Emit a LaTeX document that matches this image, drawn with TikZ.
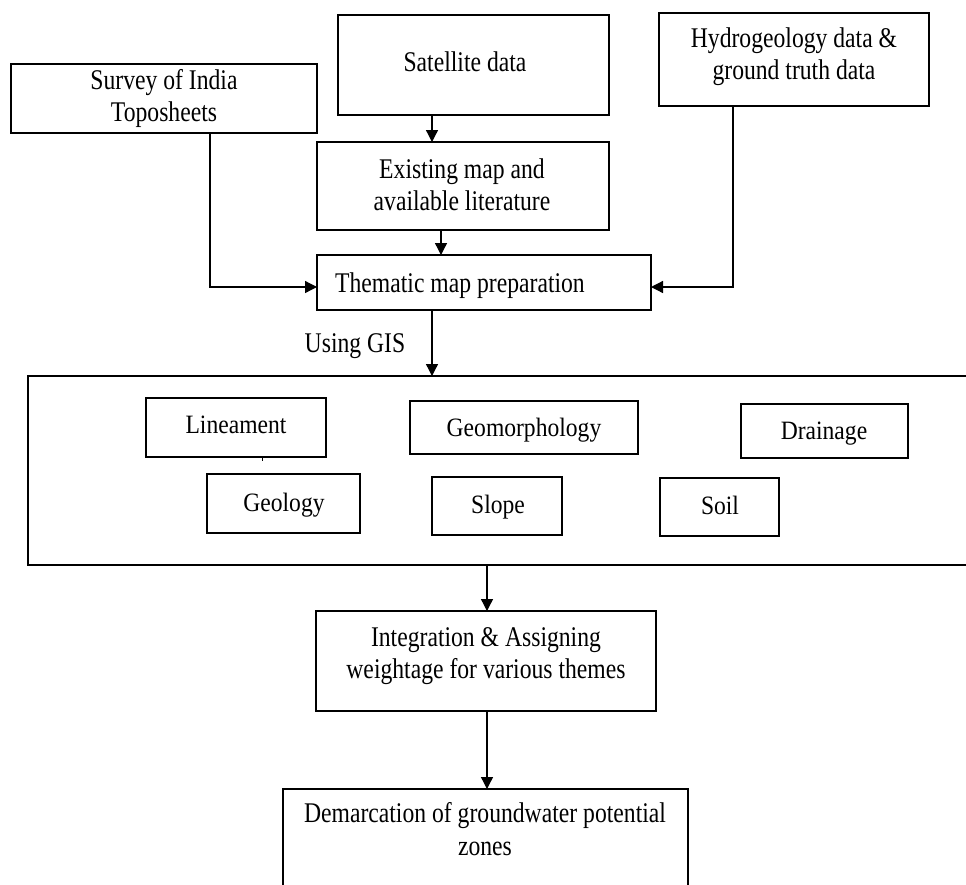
\documentclass[tikz,border=0pt]{standalone}
\usepackage{fontspec}
\newfontfamily\mainf[FakeStretch=0.83]{Liberation Serif}
\newfontfamily\innerf[FakeStretch=0.89]{Liberation Serif}
\usetikzlibrary{arrows.meta}
\begin{document}
\begin{tikzpicture}[x=1pt,y=-1pt,
  box/.style={draw,line width=2.3pt,inner sep=0pt,outer sep=0pt},
  ibox/.style={draw,line width=2.1pt,inner sep=0pt,outer sep=0pt},
  arr/.style={line width=1.3pt,-{Triangle[length=12pt,width=12pt]}},
  txt/.style={inner sep=0pt,anchor=base,font=\mainf\fontsize{28.5}{32}\selectfont},
  itxt/.style={inner sep=0pt,anchor=base,font=\innerf\fontsize{26.5}{30}\selectfont}]
\useasboundingbox (0,0) rectangle (966,884);
\clip (0,0) rectangle (966,884);
% helper coordinates
\coordinate (x210) at (210,0);
\coordinate (x432) at (432,0);
\coordinate (x441) at (441,0);
\coordinate (x487) at (487,0);
\coordinate (x733) at (733,0);
\coordinate (y287) at (0,287);
% boxes
\node[box,minimum width=306pt,minimum height=69pt] (survey) at (164,98.5) {};
\node[box,minimum width=271pt,minimum height=100pt] (sat) at (473.5,65) {};
\node[box,minimum width=292pt,minimum height=88pt] (exist) at (463,186) {};
\node[box,minimum width=334pt,minimum height=55pt] (them) at (484,282.5) {};
\node[box,minimum width=270pt,minimum height=93pt] (hydro) at (794,59.5) {};
\node[box,minimum width=952pt,minimum height=189pt] (big) at (504,470.5) {};
\node[ibox,minimum width=180pt,minimum height=59pt] (lin) at (236,427.5) {};
\node[ibox,minimum width=228pt,minimum height=53pt] (geom) at (524,427.5) {};
\node[ibox,minimum width=167pt,minimum height=54pt] (drain) at (824.5,431) {};
\node[ibox,minimum width=153pt,minimum height=59pt] (geol) at (283.5,503.5) {};
\node[ibox,minimum width=130pt,minimum height=58pt] (slope) at (497,506) {};
\node[ibox,minimum width=119pt,minimum height=58pt] (soil) at (719.5,507) {};
\node[box,minimum width=340pt,minimum height=100pt] (integ) at (486,661) {};
\node[box,minimum width=405pt,minimum height=200pt] (demar) at (485.5,889) {};
% texts
\node[txt] (survey1) at (164,89) {Survey of India};
\node[txt] (survey2) at (164,121) {Toposheets};
\node[txt] (sat1) at (465,71) {Satellite data};
\node[txt] (exist1) at (462,178) {Existing map and};
\node[txt] (exist2) at (462,210) {available literature};
\node[txt] (them1) at (460,292) {Thematic map preparation};
\node[txt] (hydro1) at (794,47) {Hydrogeology data \&};
\node[txt] (hydro2) at (794,79) {ground truth data};
\node[txt] (gis) at (355,352) {Using GIS};
\node[itxt] (lin1) at (236,433) {Lineament};
\node[itxt] (geom1) at (524,436) {Geomorphology};
\node[itxt] (drain1) at (824,439) {Drainage};
\node[itxt] (geol1) at (284,511) {Geology};
\node[itxt] (slope1) at (498,513) {Slope};
\node[itxt] (soil1) at (720,514) {Soil};
\node[txt] (integ1) at (486,646) {Integration \& Assigning};
\node[txt] (integ2) at (486,678) {weightage for various themes};
\node[txt] (demar1) at (485,822) {Demarcation of groundwater potential};
\node[txt] (demar2) at (485,855) {zones};
% connectors
\draw[arr] (x432 |- sat.south) -- (x432 |- exist.north);
\draw[arr] (x441 |- exist.south) -- (x441 |- them.north);
\draw[arr] (x210 |- survey.south) |- (them.west |- y287);
\draw[arr] (x733 |- hydro.south) |- (them.east |- y287);
\draw[arr] (x432 |- them.south) -- (x432 |- big.north);
\draw[arr] (x487 |- big.south) -- (x487 |- integ.north);
\draw[arr] (x487 |- integ.south) -- (x487 |- demar.north);
\draw[line width=0.8pt] (262,457) -- (262,461);
\end{tikzpicture}
\end{document}
